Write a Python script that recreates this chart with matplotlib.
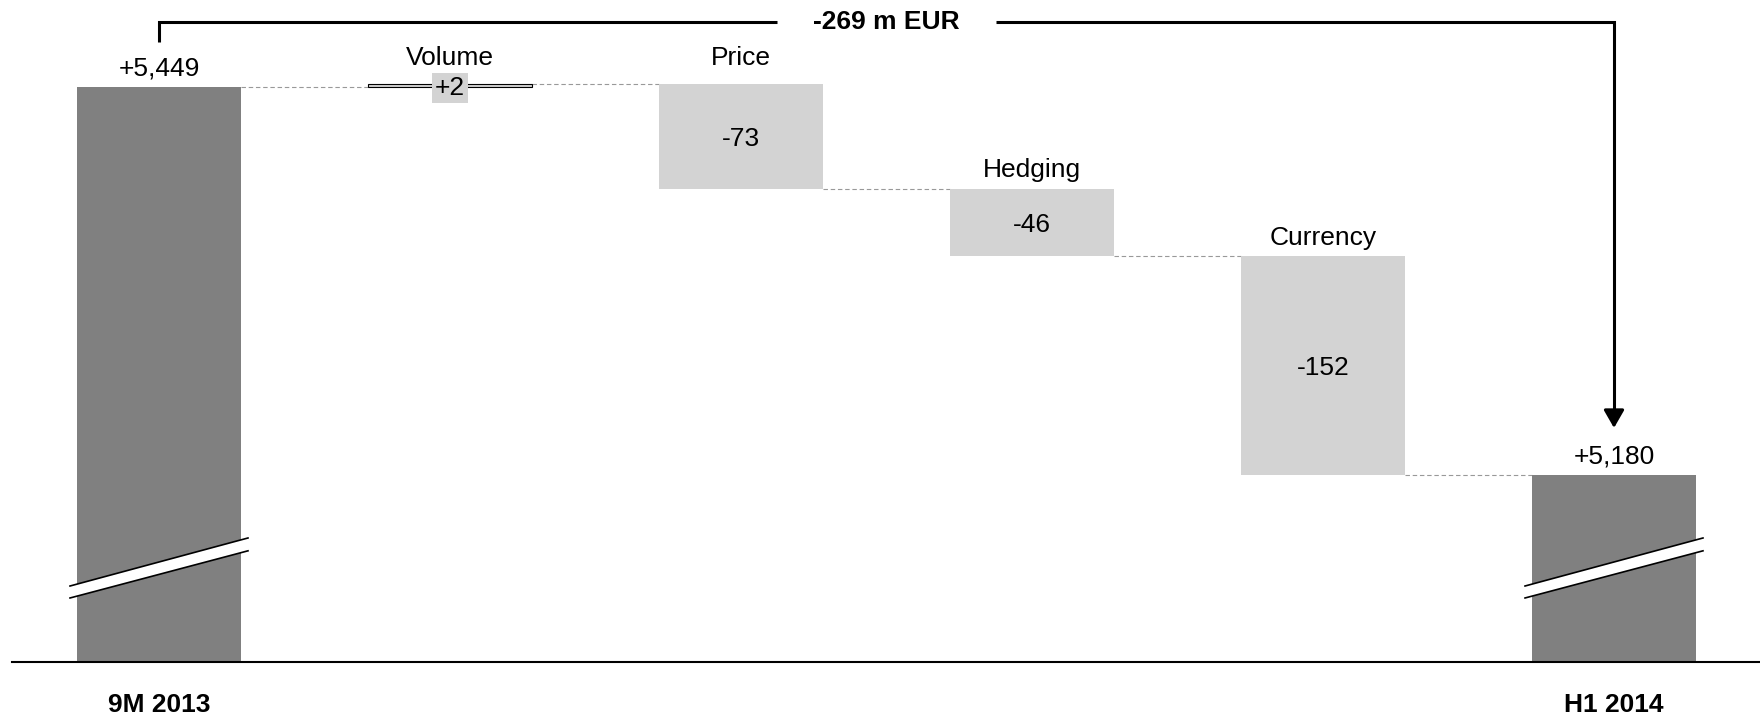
import matplotlib.pyplot as plt
from matplotlib.patches import Polygon

plt.rcParams["font.family"] = ["Liberation Sans", "DejaVu Sans"]

# Bridge from 9M 2013 to H1 2014, m EUR
start_label = "9M 2013"
end_label = "H1 2014"
start_value = 5449
steps = ["Volume", "Price", "Hedging", "Currency"]
deltas = [2, -73, -46, -152]

end_value = start_value + sum(deltas)

TOTAL_COLOR = "#808080"
STEP_COLOR = "#d3d3d3"
FLOOR = 5050  # truncated value axis
WIDTH = 0.5636
FS = 19

fig = plt.figure(figsize=(17.6, 7.2), dpi=100)
ax = fig.add_axes([0, 0, 1, 1])
ax.set_xlim(-0.5464, 5.5017)
ax.set_ylim(5010.1, 5509.3)
ax.axis("off")

n = len(steps) + 2
end_x = n - 1

# total bars
for x, val, lab in [(0, start_value, start_label), (end_x, end_value, end_label)]:
    ax.bar(x, val - FLOOR, bottom=FLOOR, width=WIDTH, color=TOTAL_COLOR, zorder=2)
    ax.text(x, val + 8, f"{val:+,}", ha="center", va="baseline", fontsize=FS)
    ax.text(x, FLOOR - 29.5, lab, ha="center", va="center", fontsize=FS, fontweight="bold")
    # axis break
    half = WIDTH / 2 + 0.024
    upper = [(x - half, 5103.0), (x + half, 5136.3)]
    lower = [(x - half, 5094.7), (x + half, 5127.4)]
    ax.add_patch(Polygon(upper + lower[::-1], closed=True, facecolor="white", edgecolor="none", zorder=3))
    for seg in (upper, lower):
        ax.plot([p[0] for p in seg], [p[1] for p in seg], color="black", lw=1.2, zorder=4)

# step bars
label_gap = [13.3, 13.3, 8.6, 7.5]
level = start_value
levels = [start_value]
for i, (name, d) in enumerate(zip(steps, deltas)):
    x = i + 1
    lo, hi = min(level, level + d), max(level, level + d)
    if abs(d) < 5:
        ax.bar(x, hi - lo, bottom=lo, width=WIDTH, color=STEP_COLOR, edgecolor="black", lw=0.8, zorder=2)
        ax.text(x, (lo + hi) / 2, f"{d:+}", ha="center", va="center_baseline", fontsize=FS, zorder=5,
                bbox=dict(boxstyle="square,pad=0.12", facecolor=STEP_COLOR, edgecolor="none"))
    else:
        ax.bar(x, hi - lo, bottom=lo, width=WIDTH, color=STEP_COLOR, zorder=2)
        ax.text(x, (lo + hi) / 2, f"{d:+}", ha="center", va="center_baseline", fontsize=FS)
    ax.text(x, hi + label_gap[i], name, ha="center", va="baseline", fontsize=FS)
    level += d
    levels.append(level)

# dashed connectors between bar tops
for i, lv in enumerate(levels):
    ax.plot([i + WIDTH / 2, i + 1 - WIDTH / 2], [lv, lv], color="#999999", lw=0.8,
            linestyle=(0, (4, 2.5)), zorder=1)

# base line
ax.plot([-0.505, 5.5017], [FLOOR, FLOOR], color="black", lw=1.5, zorder=5)

# overall change bracket
top = start_value + 45.1
mid = end_x / 2
gap = 0.377
ax.plot([0, 0, mid - gap], [start_value + 31.2, top, top], color="black", lw=2.2,
        solid_joinstyle="miter", solid_capstyle="butt")
ax.plot([mid + gap, end_x, end_x], [top, top, end_value + 40], color="black", lw=2.2,
        solid_joinstyle="miter", solid_capstyle="butt")
ax.annotate("", xy=(end_x, end_value + 32.6), xytext=(end_x, end_value + 45),
            arrowprops=dict(arrowstyle="-|>,head_width=0.31,head_length=0.54", mutation_scale=20,
                            color="black", lw=2.2, shrinkA=0, shrinkB=0))
ax.text(mid, top, f"{end_value - start_value:,} m EUR", ha="center", va="center",
        fontsize=FS, fontweight="bold")

fig.savefig("out.png", dpi=100)
